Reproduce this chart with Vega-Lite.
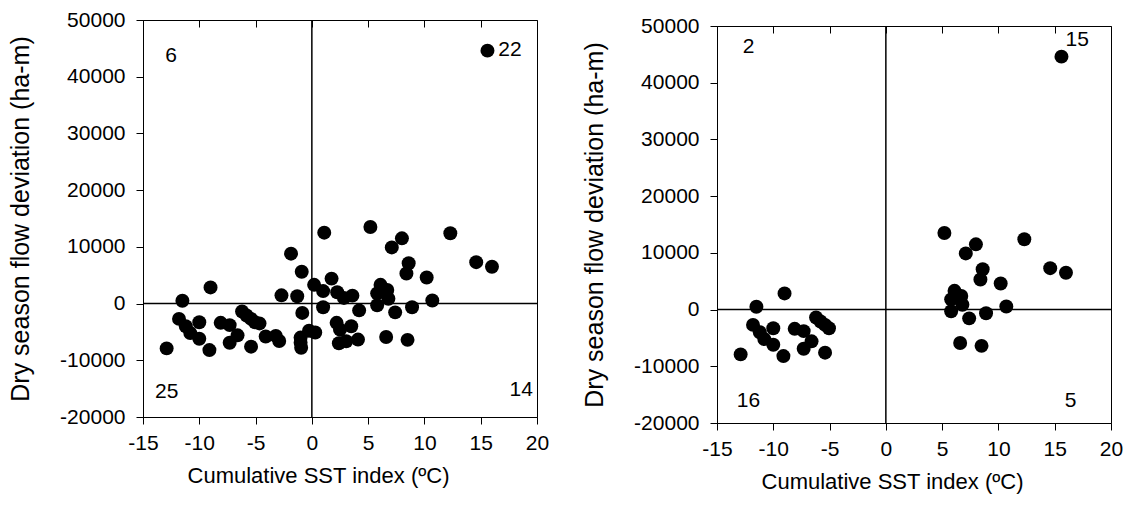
{
  "$schema": "https://vega.github.io/schema/vega-lite/v6.json",
  "background": "white",
  "padding": {"left": 8, "top": 8, "right": 5, "bottom": 5},
  "spacing": 32,
  "config": {
    "font": "Liberation Sans",
    "view": {"stroke": "black", "strokeWidth": 1},
    "axis": {
      "grid": false, "domainColor": "black", "tickColor": "black", "labelColor": "black", "titleColor": "black",
      "labelFont": "Liberation Sans", "titleFont": "Liberation Sans", "labelFontSize": 21, "titleFontWeight": "normal", "tickSize": 7, "domainWidth": 1, "tickWidth": 1
    }
  },
  "datasets": {
    "pts": [
      {"x": -11.5, "y": 500}, {"x": -9.0, "y": 2850}, {"x": -2.7, "y": 1450}, {"x": -1.3, "y": 1300}, {"x": -1.85, "y": 8800}, {"x": -0.9, "y": 5600},
      {"x": -11.8, "y": -2700}, {"x": -11.2, "y": -4000}, {"x": -10.8, "y": -5200}, {"x": -10.0, "y": -3300}, {"x": -10.0, "y": -6200}, {"x": -12.9, "y": -7900}, {"x": -9.1, "y": -8200}, {"x": -8.1, "y": -3400}, {"x": -7.3, "y": -3800}, {"x": -6.6, "y": -5600}, {"x": -7.3, "y": -6900}, {"x": -6.2, "y": -1400}, {"x": -5.8, "y": -2100}, {"x": -5.4, "y": -2700}, {"x": -5.05, "y": -3300}, {"x": -5.4, "y": -7600},
      {"x": -4.65, "y": -3500}, {"x": -4.1, "y": -5800}, {"x": -3.2, "y": -5700}, {"x": -2.9, "y": -6600}, {"x": -0.85, "y": -1650}, {"x": -1.0, "y": -6000}, {"x": -1.0, "y": -6900}, {"x": -0.95, "y": -7800}, {"x": -0.25, "y": -4800},
      {"x": 1.0, "y": -650}, {"x": 4.2, "y": -1200}, {"x": 2.2, "y": -3400}, {"x": 3.5, "y": -4000}, {"x": 2.5, "y": -4600}, {"x": 0.3, "y": -5100}, {"x": 4.1, "y": -6350}, {"x": 2.4, "y": -7000}, {"x": 3.05, "y": -6650}, {"x": 5.8, "y": -300}, {"x": 7.4, "y": -1550}, {"x": 8.9, "y": -650}, {"x": 6.6, "y": -5900}, {"x": 8.5, "y": -6400},
      {"x": 15.6, "y": 44600}, {"x": 5.2, "y": 13500}, {"x": 1.1, "y": 12500}, {"x": 12.3, "y": 12400}, {"x": 8.0, "y": 11500}, {"x": 7.1, "y": 9900}, {"x": 14.6, "y": 7300}, {"x": 16.0, "y": 6500}, {"x": 8.6, "y": 7100}, {"x": 8.4, "y": 5300}, {"x": 10.2, "y": 4600}, {"x": 1.75, "y": 4400}, {"x": 0.2, "y": 3300}, {"x": 1.0, "y": 2200}, {"x": 2.25, "y": 2000}, {"x": 2.85, "y": 1000}, {"x": 3.6, "y": 1400}, {"x": 10.7, "y": 550}, {"x": 6.1, "y": 3300}, {"x": 6.7, "y": 2400}, {"x": 5.8, "y": 1800}, {"x": 6.8, "y": 850}
    ],
    "labs": [
      {"panel": "all", "x": -12.5, "y": 43600, "t": "6"},
      {"panel": "all", "x": 17.6, "y": 44700, "t": "22"},
      {"panel": "all", "x": -12.9, "y": -15600, "t": "25"},
      {"panel": "all", "x": 18.6, "y": -15200, "t": "14"},
      {"panel": "sub", "x": -12.2, "y": 46300, "t": "2"},
      {"panel": "sub", "x": 17.0, "y": 47500, "t": "15"},
      {"panel": "sub", "x": -12.2, "y": -16100, "t": "16"},
      {"panel": "sub", "x": 16.4, "y": -16100, "t": "5"}
    ],
    "zero": [{"v": 0}],
    "blank": [{"t": ""}]
  },
  "hconcat": [
    {
      "vconcat": [
        {
          "width": 394, "height": 397,
          "resolve": {"axis": {"x": "independent", "y": "independent"}},
          "layer": [
            {
              "data": {"name": "zero"},
              "mark": {"type": "rule", "color": "black", "strokeWidth": 1.5},
              "encoding": {"x": {"field": "v", "type": "quantitative", "scale": {"domain": [-15, 20], "nice": false, "zero": false}, "axis": null}}
            },
            {
              "data": {"name": "zero"},
              "mark": {"type": "rule", "color": "black", "strokeWidth": 1.5},
              "encoding": {"y": {"field": "v", "type": "quantitative", "scale": {"domain": [-20000, 50000], "nice": false, "zero": false}, "axis": null}}
            },
            {
              "data": {"name": "pts"},
              "mark": {"type": "circle", "size": 195, "color": "black", "opacity": 1},
              "encoding": {
                "x": {"field": "x", "type": "quantitative", "scale": {"domain": [-15, 20], "nice": false, "zero": false},
                  "axis": {"orient": "bottom", "values": [-15, -10, -5, 0, 5, 10, 15, 20], "labelExpr": "'' + datum.value", "labelPadding": 8, "title": "Cumulative SST index (ºC)", "titleFontSize": 22, "titlePadding": 12, "titleX": 175, "labelFlush": false, "labelOverlap": false}},
                "y": {"field": "y", "type": "quantitative", "scale": {"domain": [-20000, 50000], "nice": false, "zero": false},
                  "axis": {"orient": "left", "values": [-20000, -10000, 0, 10000, 20000, 30000, 40000, 50000], "labelExpr": "'' + datum.value", "labelPadding": 11, "title": "Dry season flow deviation (ha-m)", "titleFontSize": 25, "titlePadding": 26, "labelFlush": false, "labelOverlap": false}}
              }
            },
            {
              "data": {"name": "labs"},
              "transform": [{"filter": "datum.panel == 'all'"}],
              "mark": {"type": "text", "fontSize": 21, "color": "black", "font": "Liberation Sans"},
              "encoding": {
                "x": {"field": "x", "type": "quantitative", "scale": {"domain": [-15, 20], "nice": false, "zero": false},
                  "axis": {"orient": "top", "values": [-15, -10, -5, 0, 5, 10, 15, 20], "labels": false, "title": null, "tickSize": -7, "domain": false}},
                "y": {"field": "y", "type": "quantitative", "scale": {"domain": [-20000, 50000], "nice": false, "zero": false}, "axis": null},
                "text": {"field": "t"}
              }
            }
          ]
        }
      ]
    },
    {
      "spacing": -17,
      "vconcat": [
        {
          "width": 394, "height": 1,
          "view": {"stroke": null},
          "data": {"name": "blank"},
          "mark": {"type": "text"},
          "encoding": {"text": {"field": "t"}}
        },
        {
          "width": 394, "height": 397,
          "resolve": {"axis": {"x": "independent", "y": "independent"}},
          "layer": [
            {
              "data": {"name": "zero"},
              "mark": {"type": "rule", "color": "black", "strokeWidth": 1.5},
              "encoding": {"x": {"field": "v", "type": "quantitative", "scale": {"domain": [-15, 20], "nice": false, "zero": false}, "axis": null}}
            },
            {
              "data": {"name": "zero"},
              "mark": {"type": "rule", "color": "black", "strokeWidth": 1.5},
              "encoding": {"y": {"field": "v", "type": "quantitative", "scale": {"domain": [-20000, 50000], "nice": false, "zero": false}, "axis": null}}
            },
            {
              "data": {"name": "pts"},
              "transform": [{"filter": "abs(datum.x) > 5"}],
              "mark": {"type": "circle", "size": 195, "color": "black", "opacity": 1},
              "encoding": {
                "x": {"field": "x", "type": "quantitative", "scale": {"domain": [-15, 20], "nice": false, "zero": false},
                  "axis": {"orient": "bottom", "values": [-15, -10, -5, 0, 5, 10, 15, 20], "labelExpr": "'' + datum.value", "labelPadding": 8, "title": "Cumulative SST index (ºC)", "titleFontSize": 22, "titlePadding": 12, "titleX": 175, "labelFlush": false, "labelOverlap": false}},
                "y": {"field": "y", "type": "quantitative", "scale": {"domain": [-20000, 50000], "nice": false, "zero": false},
                  "axis": {"orient": "left", "values": [-20000, -10000, 0, 10000, 20000, 30000, 40000, 50000], "labelExpr": "'' + datum.value", "labelPadding": 11, "title": "Dry season flow deviation (ha-m)", "titleFontSize": 25, "titlePadding": 26, "labelFlush": false, "labelOverlap": false}}
              }
            },
            {
              "data": {"name": "labs"},
              "transform": [{"filter": "datum.panel == 'sub'"}],
              "mark": {"type": "text", "fontSize": 21, "color": "black", "font": "Liberation Sans"},
              "encoding": {
                "x": {"field": "x", "type": "quantitative", "scale": {"domain": [-15, 20], "nice": false, "zero": false},
                  "axis": {"orient": "top", "values": [-15, -10, -5, 0, 5, 10, 15, 20], "labels": false, "title": null, "tickSize": -7, "domain": false}},
                "y": {"field": "y", "type": "quantitative", "scale": {"domain": [-20000, 50000], "nice": false, "zero": false}, "axis": null},
                "text": {"field": "t"}
              }
            }
          ]
        }
      ]
    }
  ]
}
